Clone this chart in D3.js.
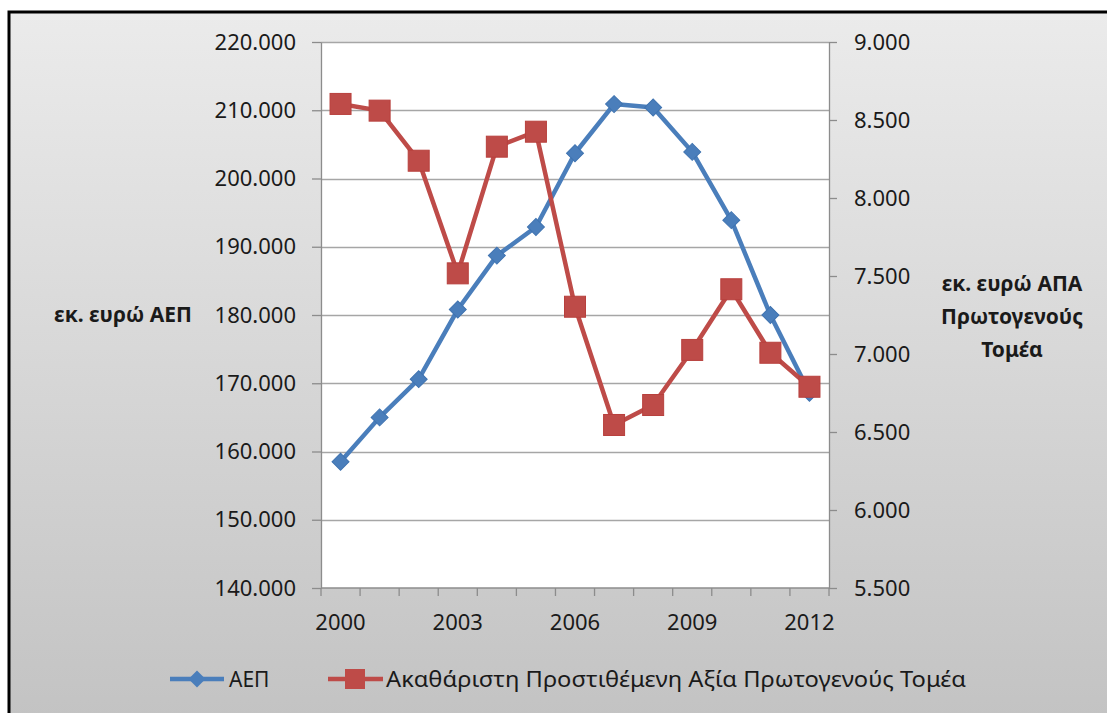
<!DOCTYPE html>
<html><head><meta charset="utf-8">
<script src="https://cdn.jsdelivr.net/npm/d3@7"></script>
<style>
html,body{margin:0;padding:0;background:#fff;}
svg{display:block;}
text{font-family:"Noto Sans","DejaVu Sans",sans-serif;fill:#1a1a1a;}
</style></head>
<body>
<script>
const years = [2000,2001,2002,2003,2004,2005,2006,2007,2008,2009,2010,2011,2012];
const gdp = [158500,165000,170600,180800,188700,192900,203700,210900,210400,203900,193900,180000,168600];
const gva = [8603,8560,8239,7517,8329,8425,7303,6545,6673,7026,7415,7008,6790];
const leftTicks = [140000,150000,160000,170000,180000,190000,200000,210000,220000];
const rightTicks = [5500,6000,6500,7000,7500,8000,8500,9000];
const xLabelYears = [2000,2003,2006,2009,2012];
const gdpName = "ΑΕΠ";
const gvaName = "Ακαθάριστη Προστιθέμενη Αξία Πρωτογενούς Τομέα";
const leftTitle = "εκ. ευρώ ΑΕΠ";
const rightTitle = ["εκ. ευρώ ΑΠΑ","Πρωτογενούς","Τομέα"];

const W=1107,H=713;
const fmt = v => d3.format(",.3f")(v/1000).replace(/,/g,"");
const svg = d3.select("body").append("svg").attr("width",W).attr("height",H);
const defs = svg.append("defs");
const g = defs.append("linearGradient").attr("id","bg").attr("x1",0).attr("y1",0).attr("x2",0).attr("y2",1);
g.append("stop").attr("offset","0%").attr("stop-color","#ebebeb");
g.append("stop").attr("offset","100%").attr("stop-color","#c2c2c2");
svg.append("rect").attr("x",9).attr("y",12).attr("width",W+10).attr("height",H+10)
  .attr("fill","url(#bg)").attr("stroke","#000").attr("stroke-width",3);

const L=321,R=829,T=42,B=588;
const x = d3.scaleBand().domain(years).range([L,R]);
const yL = d3.scaleLinear().domain([140000,220000]).range([B,T]);
const yR = d3.scaleLinear().domain([5500,9000]).range([B,T]);

svg.append("rect").attr("x",L).attr("y",T).attr("width",R-L).attr("height",B-T).attr("fill","#fff");

// gridlines
svg.append("g").selectAll("line").data(leftTicks.slice(1)).join("line")
  .attr("x1",L).attr("x2",R).attr("y1",d=>Math.round(yL(d))+0.5).attr("y2",d=>Math.round(yL(d))+0.5)
  .attr("stroke","#a6a6a6").attr("stroke-width",1.3);

const axStyle = sel => { sel.select(".domain").attr("stroke","#8c8c8c").attr("stroke-width",1.3);
  sel.selectAll(".tick line").attr("stroke","#8c8c8c").attr("stroke-width",1.3);
  sel.selectAll("text").attr("fill","#1a1a1a").style("font-family","\"Noto Sans\",sans-serif"); };

const axL = svg.append("g").attr("transform",`translate(${L},0)`)
  .call(d3.axisLeft(yL).tickValues(leftTicks).tickFormat(fmt).tickSize(9).tickSizeOuter(0).tickPadding(16));
axStyle(axL); axL.selectAll("text").attr("font-size",22);

const axR = svg.append("g").attr("transform",`translate(${R},0)`)
  .call(d3.axisRight(yR).tickValues(rightTicks).tickFormat(fmt).tickSize(8).tickSizeOuter(0).tickPadding(17));
axStyle(axR); axR.selectAll("text").attr("font-size",22);

// x axis with ticks at band boundaries
const axX = svg.append("g").attr("transform",`translate(0,${B})`);
axX.append("line").attr("x1",L).attr("x2",R).attr("y1",0).attr("y2",0).attr("stroke","#8c8c8c").attr("stroke-width",1.3);
const bounds = years.map(d=>x(d)).concat([R]);
axX.selectAll("line.t").data(bounds).join("line").attr("class","t")
  .attr("x1",d=>d).attr("x2",d=>d).attr("y1",0).attr("y2",8).attr("stroke","#8c8c8c").attr("stroke-width",1.3);
axX.selectAll("text").data(xLabelYears).join("text")
  .attr("x",d=>x(d)+x.bandwidth()/2).attr("y",42).attr("text-anchor","middle").attr("font-size",22).text(d=>d);

// titles
svg.append("text").attr("x",123).attr("y",322).attr("text-anchor","middle").attr("font-size",21).attr("font-weight","bold").text(leftTitle);
svg.append("g").selectAll("text").data(rightTitle).join("text")
  .attr("x",1012).attr("y",(d,i)=>291+i*33).attr("text-anchor","middle").attr("font-size",21).attr("font-weight","bold").text(d=>d);

const cx = d=>x(d)+x.bandwidth()/2;
const blue="#4a7ebb", red="#be4b48";
// GDP line
svg.append("path").datum(years.map((d,i)=>[cx(d),yL(gdp[i])]))
  .attr("d",d3.line()).attr("fill","none").attr("stroke",blue).attr("stroke-width",4.5).attr("stroke-linejoin","round");
svg.append("g").selectAll("path").data(years).join("path")
  .attr("transform",(d,i)=>`translate(${cx(d)},${yL(gdp[i])}) rotate(45)`)
  .attr("d","M-6,-6H6V6H-6Z").attr("fill",blue).attr("stroke","#3f73b0").attr("stroke-width",1);
// GVA line
svg.append("path").datum(years.map((d,i)=>[cx(d),yR(gva[i])]))
  .attr("d",d3.line()).attr("fill","none").attr("stroke",red).attr("stroke-width",4.5).attr("stroke-linejoin","round");
svg.append("g").selectAll("rect").data(years).join("rect")
  .attr("x",d=>cx(d)-10.5).attr("y",(d,i)=>yR(gva[i])-10.5).attr("width",21).attr("height",21)
  .attr("fill",red).attr("stroke","#b8403d").attr("stroke-width",1);

// legend
const ly=679;
const lg = svg.append("g");
lg.append("line").attr("x1",170).attr("x2",224).attr("y1",ly).attr("y2",ly).attr("stroke",blue).attr("stroke-width",4.5);
lg.append("path").attr("transform",`translate(197,${ly}) rotate(45)`).attr("d","M-6,-6H6V6H-6Z").attr("fill",blue);
lg.append("text").attr("x",229).attr("y",ly+8).attr("font-size",21).text(gdpName);
lg.append("line").attr("x1",328).attr("x2",383).attr("y1",ly).attr("y2",ly).attr("stroke",red).attr("stroke-width",4.5);
lg.append("rect").attr("x",345).attr("y",ly-10).attr("width",20).attr("height",20).attr("fill",red);
lg.append("text").attr("x",386).attr("y",ly+8).attr("font-size",21).attr("textLength",580).attr("lengthAdjust","spacingAndGlyphs").text(gvaName);
</script>
</body></html>
